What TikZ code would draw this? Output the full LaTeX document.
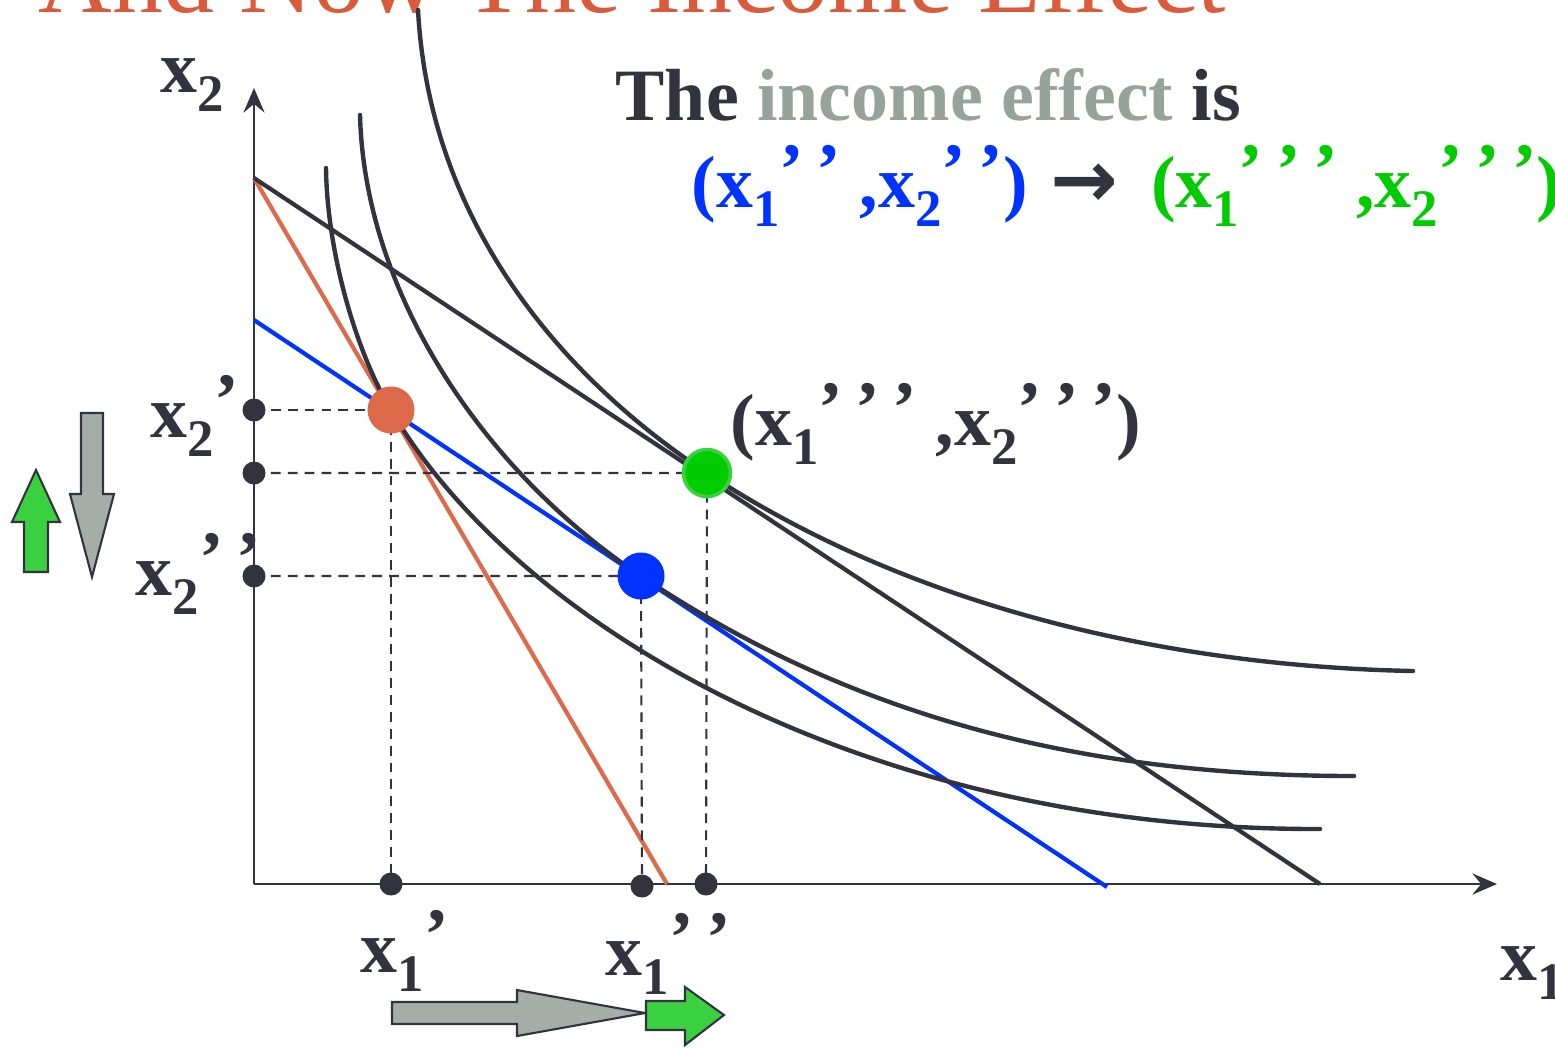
\documentclass[tikz,border=0pt]{standalone}
\usepackage{fontspec}
\setmainfont{Liberation Serif}
\newfontfamily\arrowfont{DejaVu Sans}
\usetikzlibrary{arrows.meta,positioning}

\definecolor{inkgray}{RGB}{51,51,64}
\definecolor{budgetorange}{RGB}{222,106,76}
\definecolor{dotorange}{RGB}{219,105,74}
\definecolor{pureblue}{RGB}{0,51,255}
\definecolor{puregreen}{RGB}{0,204,0}
\definecolor{leafgreen}{RGB}{58,208,64}
\definecolor{sagegray}{RGB}{150,163,154}
\definecolor{arrowgray}{RGB}{165,173,167}
\definecolor{titlered}{RGB}{218,91,60}

% quantity label: x, lowered subscript, raised primes
\newcommand{\qv}[2]{x\raisebox{-0.27em}{\fontsize{15}{15}\selectfont #1}\raisebox{0.17em}{#2}}
\newcommand{\pp}{’\hspace{0.17em}’}
\newcommand{\ppp}{’\hspace{0.17em}’\hspace{0.17em}’}

\begin{document}
\begin{tikzpicture}[
		x=0.01cm, y=-0.01cm,
		axis/.style={draw=inkgray, line width=0.75pt, -{Stealth[length=7pt,width=6pt,inset=2.5pt]}},
		curve/.style={draw=inkgray, line width=1.25pt, line cap=round},
		budget/.style={line width=1.2pt},
		guide/.style={draw=inkgray, line width=0.6pt, dash pattern=on 2.8pt off 2pt},
		tick/.style={circle, fill=inkgray, minimum size=0.23cm, inner sep=0pt},
		bigdot/.style={circle, minimum size=0.47cm, inner sep=0pt},
		lbl/.style={anchor=base west, inner sep=0pt, text=inkgray, font=\bfseries\fontsize{21}{25}\selectfont},
		fatarrow/.style={draw=inkgray, line width=0.6pt, line join=miter}
		]
		
		\useasboundingbox (0,0) rectangle (1555,1047);
		
		\node[anchor=base west, inner sep=0pt, text=titlered, font=\fontsize{29}{34}\selectfont] (title) at (38,12) {And Now The Income Effect};
		
		% axes
		\coordinate (O) at (254,884);
		\coordinate (ytop) at (254,88);
		\coordinate (xend) at (1497,884);
		\draw[axis] (O) -- (ytop);
		\draw[axis] (O) -- (xend);
		
		% budget lines
		\coordinate (b0) at (254,178);
		\coordinate (bo) at (667,884);
		\coordinate (bd) at (1320,884);
		\coordinate (bb0) at (254,320);
		\coordinate (bb) at (1107,887);
		\draw[budget, budgetorange] (b0) -- (bo);
		\draw[budget, inkgray] (b0) -- (bd);
		\draw[budget, pureblue] (bb0) -- (bb);
		
		% bundles
		\coordinate (A) at (391,410);
		\coordinate (B) at (641,576);
		\coordinate (C) at (707,473);
		
		% indifference curves
		\draw[curve] (326,168) .. controls (327,250) and (355,350) .. (A)
			.. controls (510,615) and (850,830) .. (1320,829);
		\draw[curve] (360,115) .. controls (365,300) and (490,476) .. (B)
			.. controls (850,716) and (1080,776) .. (1354,776);
		\draw[curve] (418,10) .. controls (430,230) and (570,383) .. (C)
			.. controls (907,605) and (1163,666) .. (1413,671);
		
		% guides to the axes
		\coordinate (Ay) at (254,410);
		\coordinate (Ax) at (391,884);
		\coordinate (By) at (254,576);
		\coordinate (Bx) at (642,886);
		\coordinate (Cy) at (254,473);
		\coordinate (Cx) at (706,884);
		\draw[guide] (Ay) -- (A) -- (Ax);
		\draw[guide] (By) -- (B) -- (Bx);
		\draw[guide] (Cy) -- (C) -- (Cx);
		
		\foreach \p in {Ay,Ax,By,Bx,Cy,Cx}
			\node[tick] (t\p) at (\p) {};
		
		\node[bigdot, fill=dotorange] (dotA) at (A) {};
		\node[bigdot, fill=pureblue] (dotB) at (B) {};
		\node[bigdot, fill=puregreen, draw=leafgreen, line width=1pt] (dotC) at (C) {};
		
		% labels
		\node[lbl] (labx2) at (160,92) {\qv{2}{}};
		\node[lbl] (labx1) at (1500,980) {\qv{1}{}};
		\node[lbl] (labx2a) at (150,437) {\qv{2}{’}};
		\node[lbl] (labx2b) at (135,595) {\qv{2}{\pp}};
		\node[lbl] (labx1a) at (360,972) {\qv{1}{’}};
		\node[lbl] (labx1b) at (605,975) {\qv{1}{\pp}};
		\node[lbl] (labC) at (730,445) {(\qv{1}{\ppp} ,\qv{2}{\ppp})};
		
		\node[lbl] (effect) at (615,120) {The \textcolor{sagegray}{income effect} is};
		\node[lbl] (effmove) at (691,207) {\textcolor{pureblue}{(\qv{1}{\pp} ,\qv{2}{\pp})}\hspace{0.3em}{\arrowfont\fontsize{23}{23}\selectfont →}\hspace{0.45em}\textcolor{puregreen}{(\qv{1}{\ppp} ,\qv{2}{\ppp})}};
		
		% change arrows
		\draw[fatarrow, fill=leafgreen] (24,572) -- (48,572) -- (48,522) -- (60,522) -- (36,470) -- (12,522) -- (24,522) -- cycle;
		\draw[fatarrow, fill=arrowgray] (81,413) -- (103,413) -- (103,494) -- (114,494) -- (92,577) -- (70,494) -- (81,494) -- cycle;
		\draw[fatarrow, fill=arrowgray] (392,1002) -- (517,1002) -- (517,990) -- (645,1013) -- (517,1036) -- (517,1024) -- (392,1024) -- cycle;
		\draw[fatarrow, fill=leafgreen] (646,1001) -- (685,1001) -- (685,987) -- (724,1015) -- (685,1045) -- (685,1030) -- (646,1030) -- cycle;
		
	\end{tikzpicture}
\end{document}
